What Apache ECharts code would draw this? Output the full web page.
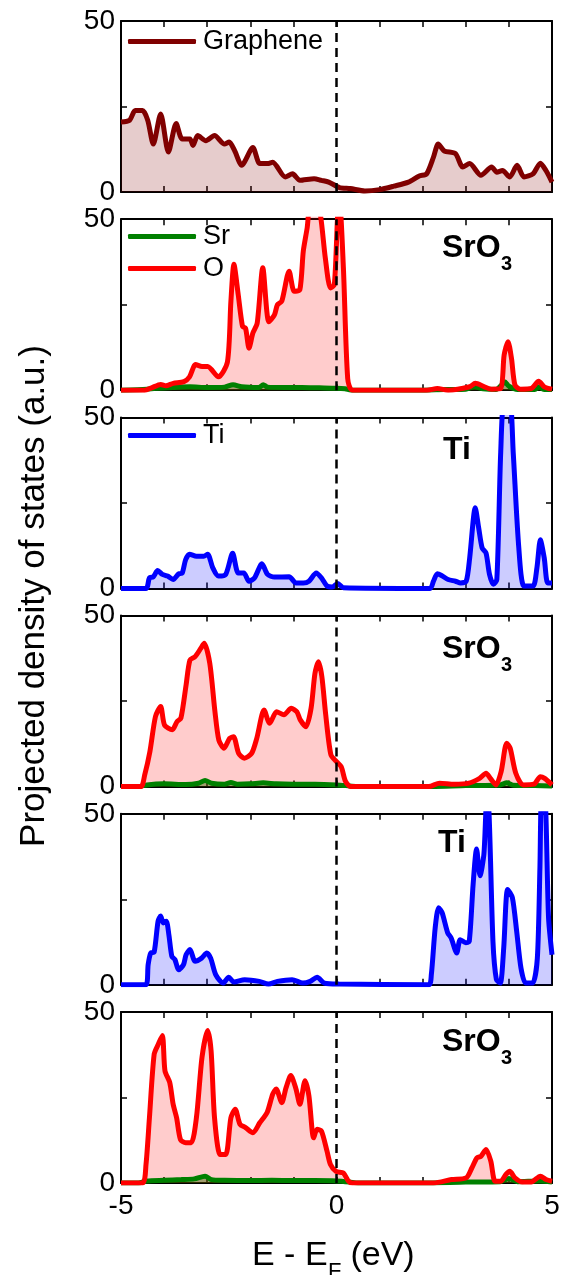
<!DOCTYPE html>
<html>
<head>
<meta charset="utf-8">
<title>Projected density of states</title>
<script src="https://cdn.jsdelivr.net/npm/echarts@6/dist/echarts.min.js"></script>
<style>
  html, body { margin: 0; padding: 0; background: #fff; }
  #chart { width: 567px; height: 1275px; }
</style>
</head>
<body>
<div id="chart"></div>
<script>
// energy axis ticks (eV) and DOS axis ticks
const xTicks = [-5, 0, 5];
const yTicks = [0, 50];

// panel 1 - graphene
const grapheneE = [-5, -4.8, -4.67, -4.5, -4.38, -4.25, -4.08, -3.9, -3.72, -3.58, -3.4, -3.33, -3.22, -3.03, -2.83, -2.6, -2.49, -2.36, -2.2, -1.94, -1.78, -1.6, -1.48, -1.19, -1.02, -0.85, -0.52, -0.35, -0.18, 0.07, 0.32, 0.66, 1.0, 1.33, 1.67, 1.92, 2.09, 2.25, 2.36, 2.5, 2.76, 2.93, 3.09, 3.35, 3.6, 3.72, 3.85, 4.02, 4.19, 4.35, 4.56, 4.73, 4.86, 5];
const grapheneDos = [20.5, 21, 23.8, 23.8, 21, 14, 22.8, 11.7, 20, 15.5, 15.5, 13.6, 16.5, 15, 16.5, 14, 14.6, 12, 7.8, 13, 8.3, 8.3, 8.7, 4.4, 5.3, 3.4, 3.9, 3.4, 2.9, 1.3, 1.0, 0.3, 0.7, 1.7, 2.9, 4.7, 5.3, 10.2, 14, 12, 11.2, 7.3, 8.3, 4.9, 7.3, 5.8, 6.3, 4.4, 7.8, 4.4, 5.3, 8.4, 6.3, 2.9];

// panel 2 - SrO3 (top)
const sr1E = [-5, -4.4, -4.2, -3.8, -3.4, -3.0, -2.6, -2.4, -2.2, -1.8, -1.7, -1.6, -1.2, -0.8, -0.4, 0, 0.2, 0.35, 1, 2, 2.5, 3.0, 3.2, 3.4, 3.7, 3.85, 3.9, 4.0, 4.2, 4.6, 4.7, 4.8, 5];
const sr1Dos = [0, 0.3, 0.6, 0.8, 1, 0.8, 0.9, 1.6, 1, 0.8, 1.6, 0.9, 0.8, 0.8, 0.7, 0.6, 0.4, 0, 0, 0, 0.2, 0.3, 1, 0.4, 0.2, 1.8, 2.5, 1.2, 0.2, 0.2, 1, 0.3, 0.2];
const o1E = [-5, -4.45, -4.29, -4.08, -3.96, -3.79, -3.54, -3.41, -3.27, -3.12, -2.99, -2.74, -2.53, -2.45, -2.38, -2.28, -2.18, -2.11, -2.03, -1.94, -1.84, -1.71, -1.57, -1.44, -1.37, -1.27, -1.1, -0.98, -0.85, -0.77, -0.68, -0.6, -0.47, -0.37, -0.26, -0.14, -0.05, 0.03, 0.07, 0.16, 0.26, 0.37, 2.1, 2.34, 2.59, 3.09, 3.22, 3.43, 3.6, 3.81, 3.89, 3.98, 4.06, 4.14, 4.27, 4.52, 4.69, 4.82, 5];
const o1Dos = [0, 0, 0.7, 1.7, 1.3, 2, 2.5, 3.9, 7.5, 6.9, 6.9, 3.9, 8.3, 26, 36.8, 27.9, 18.6, 18.1, 12.3, 16.7, 19.6, 35.8, 20, 22, 25, 26, 34.8, 28.9, 29.4, 40.7, 47.5, 55, 55, 51, 38.7, 29.9, 30.9, 52, 55, 35.8, 3.4, 0, 0, 0.5, 0, 1, 2, 1, 0.3, 0.5, 10.3, 14.2, 9.3, 1.5, 0.3, 0.5, 2.6, 1, 0.3];

// panel 3 - Ti (top)
const ti1E = [-5, -4.42, -4.34, -4.25, -4.15, -4.04, -3.92, -3.79, -3.66, -3.58, -3.5, -3.41, -3.25, -3.08, -2.99, -2.87, -2.74, -2.57, -2.41, -2.28, -2.15, -2.03, -1.9, -1.73, -1.6, -1.44, -1.1, -0.94, -0.77, -0.64, -0.47, -0.35, -0.22, -0.1, 0.03, 0.16, 2.17, 2.25, 2.34, 2.46, 2.59, 2.76, 2.88, 3.01, 3.09, 3.22, 3.3, 3.38, 3.47, 3.55, 3.64, 3.72, 3.81, 3.89, 4.02, 4.1, 4.23, 4.35, 4.56, 4.65, 4.73, 4.82, 4.9, 5];
const ti1Dos = [0, 0, 3.1, 3.4, 5.2, 4.1, 3.6, 2.6, 4.3, 4.5, 8.4, 10, 9.4, 9.4, 10, 6, 3.6, 4.1, 10.3, 4.5, 4.5, 2.1, 3.1, 7.2, 4.1, 3.3, 3.4, 1.6, 1.6, 2.1, 4.5, 3.1, 0.7, 0.4, 1.4, 0.2, 0, 2.1, 4.3, 3.6, 2.6, 2.1, 1.6, 2.1, 8.9, 23.6, 17.6, 11.8, 10.3, 4.1, 1.2, 2.6, 39.8, 55, 55, 39.8, 11.8, 0.7, 0.7, 6, 14.2, 8.9, 1.6, 1.6];

// panel 4 - SrO3 (middle)
const sr2E = [-5, -4.6, -4.4, -4.0, -3.5, -3.2, -3.05, -2.9, -2.6, -2.45, -2.3, -2.0, -1.7, -1.4, -1.0, -0.5, 0, 0.3, 0.5, 2, 3, 3.8, 3.95, 4.1, 4.6, 5];
const sr2Dos = [0, 0, 0.5, 0.8, 0.6, 1, 1.8, 1, 0.7, 1.2, 0.7, 0.8, 1.1, 0.8, 0.7, 0.7, 0.5, 0.2, 0, 0, 0.3, 0.5, 1.1, 0.4, 0.3, 0.2];
const o2E = [-5, -4.54, -4.45, -4.33, -4.2, -4.08, -3.99, -3.81, -3.7, -3.61, -3.49, -3.4, -3.28, -3.15, -3.07, -2.94, -2.82, -2.73, -2.61, -2.48, -2.39, -2.27, -2.14, -1.97, -1.85, -1.68, -1.55, -1.39, -1.22, -1.05, -0.92, -0.84, -0.71, -0.59, -0.5, -0.42, -0.34, -0.25, -0.13, 0, 0.11, 0.21, 0.34, 2.14, 2.39, 2.73, 3.07, 3.32, 3.47, 3.57, 3.7, 3.82, 3.95, 4.03, 4.16, 4.33, 4.58, 4.73, 4.83, 5];
const o2Dos = [0, 0, 3.4, 10.2, 20.5, 23.4, 18, 16.6, 19, 20, 29.7, 37, 38, 40.4, 41.9, 36, 21.9, 13.6, 11.2, 14.1, 14.6, 9.7, 8.3, 9.7, 14.1, 22.4, 18.5, 21.9, 21, 22.9, 21.9, 19.5, 17.5, 22.9, 33.1, 36.5, 32.2, 21, 9.3, 7.3, 5.8, 1.5, 0, 0, 1, 0.7, 1, 2.4, 3.9, 2.4, 0.5, 4.4, 12.7, 11.2, 3.9, 0.5, 0.7, 2.9, 2.4, 0.5];

// panel 5 - Ti (bottom)
const ti2E = [-5, -4.42, -4.37, -4.31, -4.23, -4.14, -4.08, -4.02, -3.95, -3.89, -3.82, -3.75, -3.66, -3.55, -3.49, -3.4, -3.28, -3.13, -3.01, -2.92, -2.8, -2.63, -2.5, -2.38, -2.13, -1.79, -1.58, -1.37, -1.03, -0.78, -0.61, -0.45, -0.28, 0.06, 2.14, 2.2, 2.29, 2.37, 2.45, 2.58, 2.66, 2.79, 2.87, 3.0, 3.08, 3.17, 3.25, 3.33, 3.42, 3.49, 3.54, 3.63, 3.71, 3.8, 3.88, 3.97, 4.08, 4.18, 4.28, 4.39, 4.55, 4.66, 4.72, 4.76, 4.83, 4.92, 5];
const ti2Dos = [0, 0, 5.9, 9.3, 9.6, 18.6, 20.1, 18.1, 18.6, 14.7, 8.3, 7.4, 4.4, 5.9, 8.8, 10.3, 6.9, 7.8, 9.3, 7.8, 2.9, 0.5, 2.2, 0.8, 1.5, 1, 0.2, 1, 1.5, 0.5, 1, 2.2, 0.5, 0.2, 0, 2.9, 16.7, 22.5, 21.1, 15.2, 13.7, 9.3, 13.2, 12.3, 12.7, 29.4, 39.7, 31.9, 38.2, 55, 50, 12.7, 1.5, 0.5, 10.8, 27.9, 25.5, 15.7, 4.9, 0.5, 0.5, 7.8, 34.3, 55, 55, 19.6, 8.8];

// panel 6 - SrO3 (bottom)
const sr3E = [-5, -4.6, -4.4, -4.0, -3.6, -3.3, -3.05, -2.9, -2.6, -2, -1.5, -1, -0.5, 0, 0.3, 0.5, 2, 3, 3.8, 4.0, 4.2, 4.7, 5];
const sr3Dos = [0, 0, 0.6, 0.8, 1, 1.2, 2, 1, 0.8, 0.7, 0.8, 0.7, 0.7, 0.6, 0.3, 0, 0, 0.3, 0.4, 1.3, 0.4, 0.6, 0.3];
const o3E = [-5, -4.5, -4.42, -4.34, -4.23, -4.13, -4.04, -3.98, -3.87, -3.79, -3.71, -3.62, -3.5, -3.37, -3.25, -3.12, -2.99, -2.91, -2.83, -2.7, -2.57, -2.45, -2.35, -2.24, -2.11, -1.94, -1.78, -1.61, -1.48, -1.4, -1.27, -1.17, -1.06, -0.94, -0.85, -0.73, -0.64, -0.53, -0.45, -0.35, -0.22, -0.14, -0.01, 0.16, 0.28, 0.37, 2.25, 2.67, 3.01, 3.14, 3.26, 3.35, 3.47, 3.58, 3.68, 3.81, 3.93, 4.02, 4.14, 4.31, 4.52, 4.73, 4.86, 5];
const o3Dos = [0, 0, 5.4, 19.1, 37.7, 40.7, 43.1, 32.8, 29.4, 23, 19.1, 12.7, 11.8, 11.8, 19.1, 36.8, 44.6, 38.7, 19.1, 8.3, 8.3, 19.1, 21.6, 17.2, 16.2, 14.7, 17.6, 20.6, 26, 27.5, 23.5, 27.9, 31.4, 27.5, 23, 29.9, 25.5, 13.2, 15.7, 15.2, 9.3, 5.4, 3.4, 2.9, 0.5, 0, 0, 1, 1.5, 4.4, 7.4, 7.8, 9.8, 6.4, 0.5, 0.5, 2.5, 3.4, 1.5, 0.3, 0.3, 2, 1, 0.5];

const FONT = "'Liberation Sans', Arial, sans-serif";
const colors = { Graphene: '#800000', Sr: '#008000', O: '#ff0000', Ti: '#0000ff' };

function zip(e, v) {
  return e.map((x, i) => [x, v[i]]);
}

// panels: which curves go where, and the bold label in the corner
const panels = [
  { curves: [['Graphene', grapheneE, grapheneDos]], label: null },
  { curves: [['Sr', sr1E, sr1Dos], ['O', o1E, o1Dos]], label: 'SrO', labelX: 442, labelDy: 29 },
  { curves: [['Ti', ti1E, ti1Dos]], label: 'Ti', labelX: 443, labelDy: 33 },
  { curves: [['Sr', sr2E, sr2Dos], ['O', o2E, o2Dos]], label: 'SrO', labelX: 442, labelDy: 34 },
  { curves: [['Ti', ti2E, ti2Dos]], label: 'Ti', labelX: 438, labelDy: 29 },
  { curves: [['Sr', sr3E, sr3Dos], ['O', o3E, o3Dos]], label: 'SrO', labelX: 442, labelDy: 30 }
];

const GRID_LEFT = 121;
const GRID_RIGHT = 15;
const GRID_TOP = 21;
const GRID_H = 171;
const GRID_STEP = 198.2;

const grids = [], xAxes = [], yAxes = [], series = [], graphics = [];

panels.forEach((p, i) => {
  const top = GRID_TOP + i * GRID_STEP;
  grids.push({ left: GRID_LEFT, right: GRID_RIGHT, top: top, height: GRID_H });

  const isLast = i === panels.length - 1;
  ['bottom', 'top'].forEach(pos => {
    xAxes.push({
      type: 'value', gridIndex: i, position: pos,
      min: -5, max: 5, interval: 1,
      axisLine: { show: true, onZero: false, lineStyle: { color: '#000', width: 2 } },
      axisTick: { show: true, inside: true, length: 6, lineStyle: { color: '#000', width: 1.5 } },
      axisLabel: {
        show: isLast && pos === 'bottom',
        color: '#000', fontSize: 28, fontFamily: FONT, margin: 9,
        formatter: v => (xTicks.indexOf(v) >= 0 ? String(v) : '')
      },
      splitLine: { show: false }
    });
  });
  ['left', 'right'].forEach(pos => {
    yAxes.push({
      type: 'value', gridIndex: i, position: pos,
      min: 0, max: 50, interval: 25,
      axisLine: { show: true, onZero: false, lineStyle: { color: '#000', width: 2 } },
      axisTick: { show: true, inside: true, length: 6, lineStyle: { color: '#000', width: 1.5 } },
      axisLabel: {
        show: pos === 'left',
        color: '#000', fontSize: 28, fontFamily: FONT, margin: 6,
        formatter: v => (yTicks.indexOf(v) >= 0 ? String(v) : '')
      },
      splitLine: { show: false }
    });
  });

  p.curves.forEach((c, k) => {
    const name = c[0];
    const s = {
      name: name,
      type: 'line',
      xAxisIndex: i * 2,
      yAxisIndex: i * 2,
      data: zip(c[1], c[2]),
      smooth: 0.25,
      symbol: 'none',
      clip: true,
      lineStyle: { color: colors[name], width: 5 },
      itemStyle: { color: colors[name] },
      areaStyle: { color: colors[name], opacity: name === 'Sr' ? 0.45 : 0.2 }
    };
    if (k === 0) {
      // Fermi level
      s.markLine = {
        silent: true,
        symbol: ['none', 'none'],
        label: { show: false },
        lineStyle: { color: '#000', width: 2.5, type: [9, 6] },
        data: [{ xAxis: 0 }]
      };
    }
    series.push(s);
  });

  if (p.label) {
    const cy = top + p.labelDy;
    graphics.push({
      type: 'text', x: p.labelX, y: cy,
      style: { text: p.label, fill: '#000', font: 'bold 32px ' + FONT, verticalAlign: 'middle' }
    });
    if (p.label === 'SrO') {
      graphics.push({
        type: 'text', x: p.labelX + 59, y: cy + 16,
        style: { text: '3', fill: '#000', font: 'bold 20px ' + FONT, verticalAlign: 'middle' }
      });
    }
  }
});

// axis titles
graphics.push({
  type: 'text', x: 34, y: 596, rotation: Math.PI / 2,
  style: { text: 'Projected density of states (a.u.)', fill: '#000', font: '35px ' + FONT, align: 'center', verticalAlign: 'middle' }
});
graphics.push({
  type: 'text', x: 252, y: 1256,
  style: { text: 'E - E', fill: '#000', font: '34px ' + FONT, verticalAlign: 'middle' }
});
graphics.push({
  type: 'text', x: 328, y: 1272,
  style: { text: 'F', fill: '#000', font: '22px ' + FONT, verticalAlign: 'middle' }
});
graphics.push({
  type: 'text', x: 341, y: 1256,
  style: { text: ' (eV)', fill: '#000', font: '34px ' + FONT, verticalAlign: 'middle' }
});

const legendBase = {
  orient: 'vertical',
  left: 128,
  padding: 0,
  icon: 'roundRect',
  itemWidth: 68,
  itemHeight: 5,
  itemGap: 5,
  selectedMode: false,
  textStyle: { color: '#000', fontSize: 27, fontFamily: FONT, padding: [0, 0, 0, 2] }
};

const chart = echarts.init(document.getElementById('chart'), null, { renderer: 'canvas' });
chart.setOption({
  animation: false,
  backgroundColor: '#fff',
  grid: grids,
  xAxis: xAxes,
  yAxis: yAxes,
  legend: [
    Object.assign({}, legendBase, { top: 28, data: ['Graphene'] }),
    Object.assign({}, legendBase, { top: 223, data: ['Sr', 'O'] }),
    Object.assign({}, legendBase, { top: 422, data: ['Ti'] })
  ],
  graphic: graphics,
  series: series
});
</script>
</body>
</html>
